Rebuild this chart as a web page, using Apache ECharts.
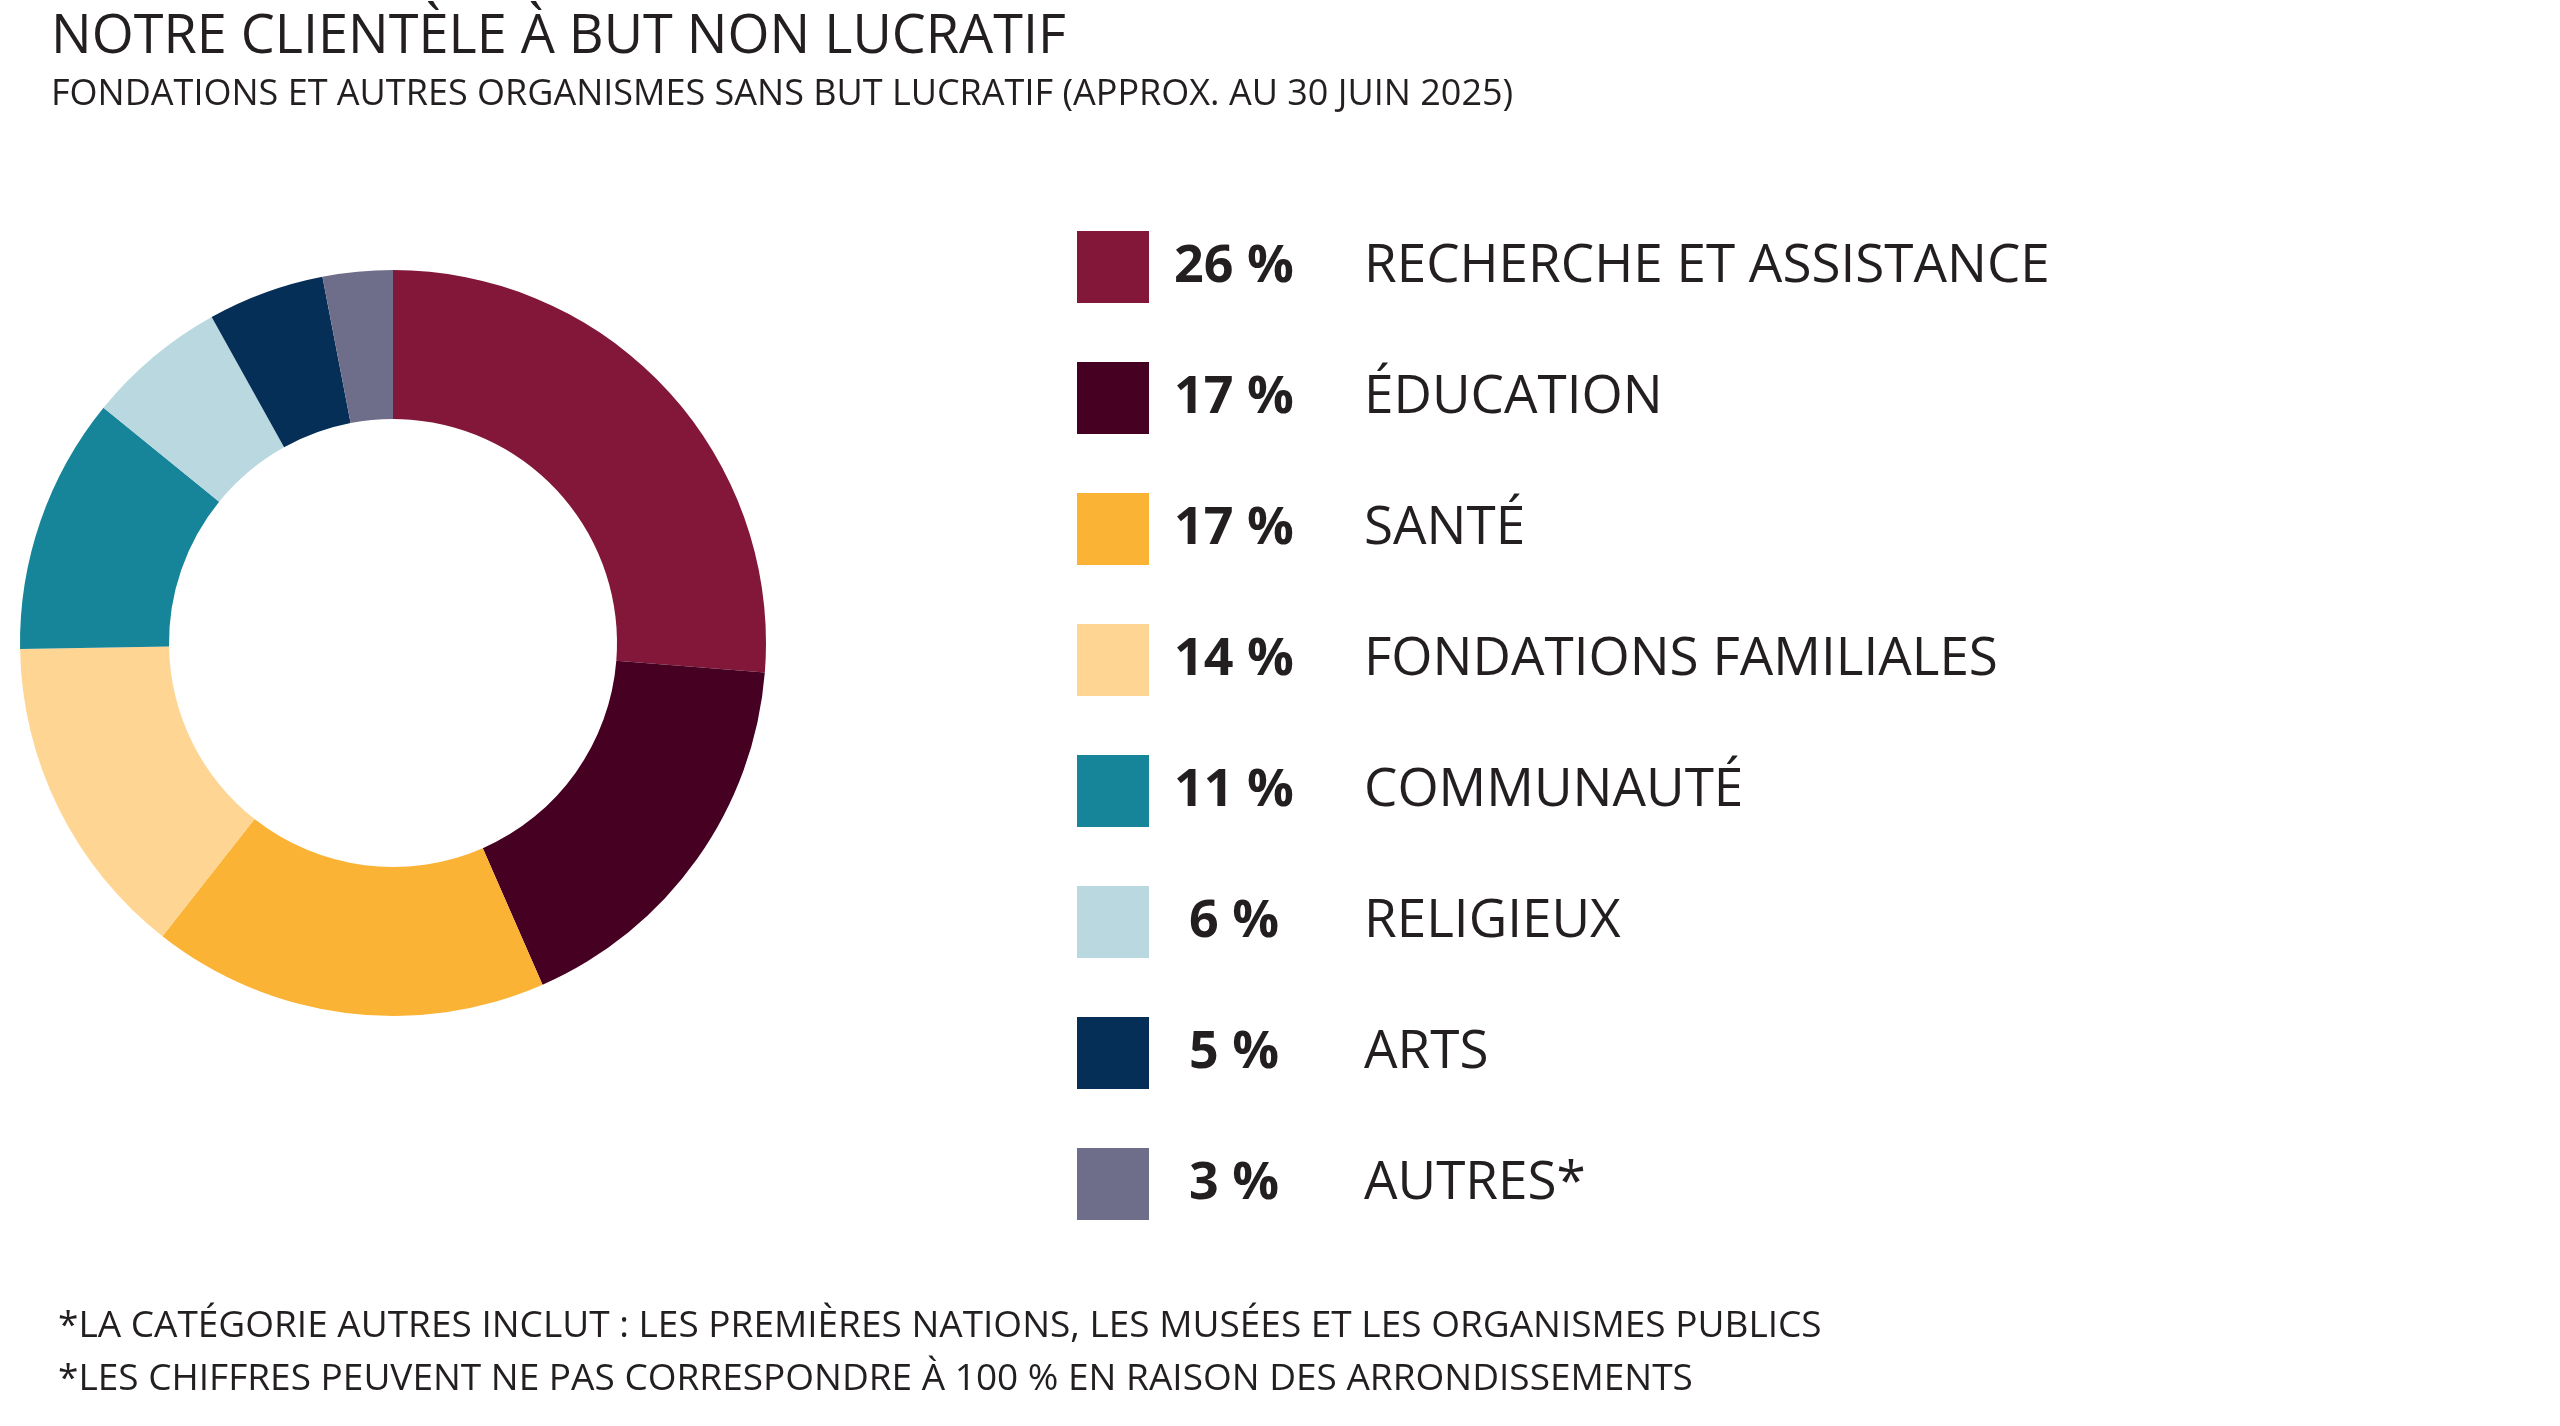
<!DOCTYPE html>
<html lang="fr">
<head>
<meta charset="UTF-8">
<title>Notre clientèle à but non lucratif</title>
<script src="https://cdn.jsdelivr.net/npm/echarts@6/dist/echarts.min.js"></script>
<style>
  html, body { margin: 0; padding: 0; background: #fff; }
  #main { width: 2560px; height: 1426px; }
</style>
</head>
<body>
<div id="main"></div>
<script>
  let categories = ['RECHERCHE ET ASSISTANCE', 'ÉDUCATION', 'SANTÉ', 'FONDATIONS FAMILIALES',
    'COMMUNAUTÉ', 'RELIGIEUX', 'ARTS', 'AUTRES*']
  let values = [26, 17, 17, 14, 11, 6, 5, 3]
  let colors = ['#82173a', '#450022', '#fbb335', '#fed592', '#168599', '#b9d8e0', '#062f58', '#6f6e8a']
  let notes = [
    '*LA CATÉGORIE AUTRES INCLUT : LES PREMIÈRES NATIONS, LES MUSÉES ET LES ORGANISMES PUBLICS',
    '*LES CHIFFRES PEUVENT NE PAS CORRESPONDRE À 100 % EN RAISON DES ARRONDISSEMENTS'
  ]

  let font = '"Open Sans", sans-serif'
  let myChart = echarts.init(document.getElementById('main'))
  let pieData = categories.map((c, i) => ({ name: c, value: values[i], itemStyle: { color: colors[i] } }))

  let option = {
    backgroundColor: '#fff',
    animation: false,
    title: {
      text: 'NOTRE CLIENTÈLE À BUT NON LUCRATIF',
      subtext: 'FONDATIONS ET AUTRES ORGANISMES SANS BUT LUCRATIF (APPROX. AU 30 JUIN 2025)',
      left: 46, top: 6, itemGap: 12,
      textStyle: { fontFamily: font, fontSize: 54, fontWeight: 'normal', color: '#231f20' },
      subtextStyle: { fontFamily: font, fontSize: 36, color: '#231f20' }
    },
    legend: {
      orient: 'vertical',
      left: 1072, top: 226,
      itemWidth: 72, itemHeight: 72, itemGap: 59,
      icon: 'rect',
      selectedMode: false,
      formatter: name => {
        let i = categories.indexOf(name)
        return '{p|' + values[i] + ' %}{n|' + name + '}'
      },
      textStyle: {
        rich: {
          p: { width: 160, align: 'right', fontFamily: font, fontSize: 52, fontWeight: 'bold', color: '#231f20' },
          n: { padding: [0, 0, 0, 50], fontFamily: font, fontSize: 53, color: '#231f20' }
        }
      }
    },
    series: [{
      type: 'pie',
      center: [393, 643],
      radius: [224, 373],
      startAngle: 90,
      clockwise: true,
      label: { show: false },
      labelLine: { show: false },
      data: pieData
    }],
    graphic: notes.map((t, i) => ({
      type: 'text', left: 58, top: 1308 + i * 53,
      style: { text: t, fontFamily: font, fontSize: 37, fill: '#231f20' }
    }))
  }
  myChart.setOption(option)
</script>
</body>
</html>
